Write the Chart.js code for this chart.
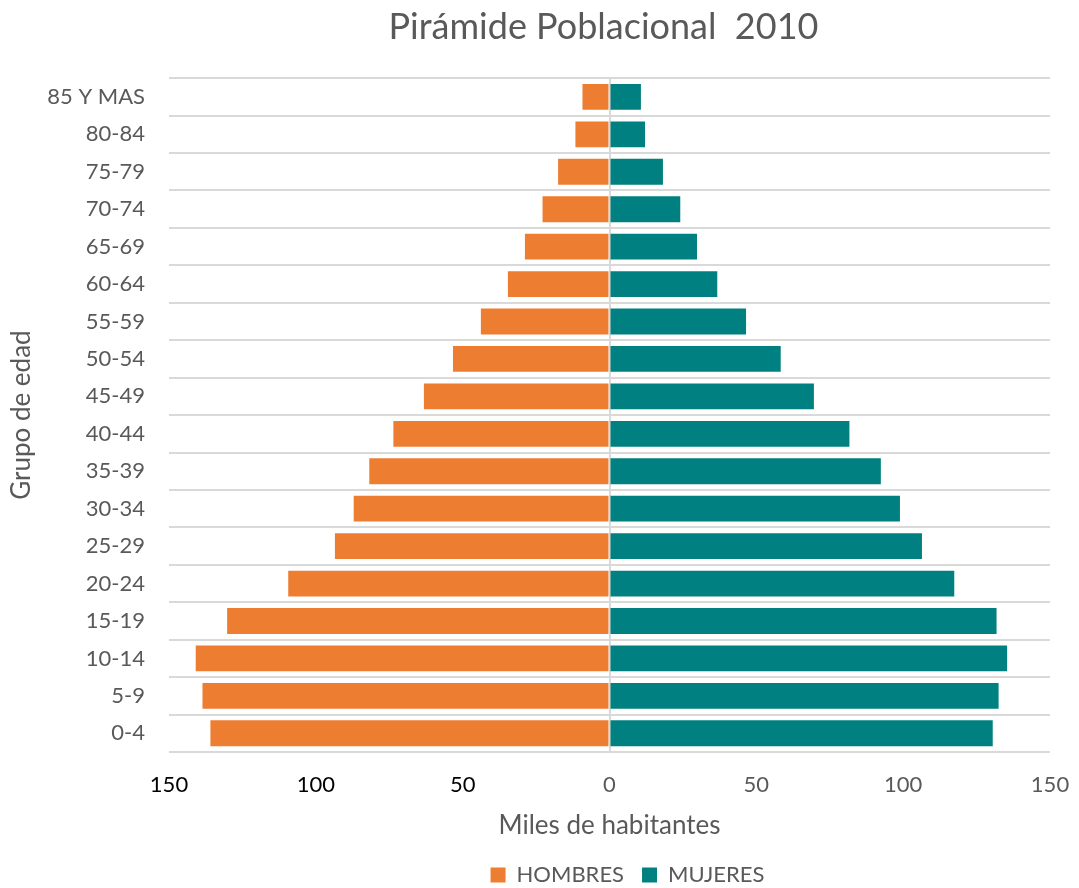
<!DOCTYPE html>
<html lang="es">
<head>
<meta charset="utf-8">
<title>Pirámide Poblacional 2010</title>
<script src="https://cdn.jsdelivr.net/npm/chart.js@4"></script>
<style>
    html, body { margin: 0; padding: 0; background: #fff; }
    #wrap { width: 1079px; height: 888px; }
</style>
</head>
<body>
<div id="wrap"><canvas id="piramide-chart" width="1079" height="888"></canvas></div>
<script>
// Grupos de edad, de arriba hacia abajo
const grupos = ['85 Y MAS', '80-84', '75-79', '70-74', '65-69', '60-64', '55-59', '50-54', '45-49',
    '40-44', '35-39', '30-34', '25-29', '20-24', '15-19', '10-14', '5-9', '0-4'];

// Miles de habitantes
const hombres = [9.2, 11.6, 17.5, 22.8, 28.8, 34.6, 43.8, 53.3, 63.2,
    73.6, 81.8, 87.1, 93.5, 109.4, 130.2, 140.9, 138.6, 135.9];
const mujeres = [10.7, 12.1, 18.2, 24.1, 29.8, 36.7, 46.5, 58.3, 69.6,
    81.7, 92.4, 98.9, 106.4, 117.4, 131.8, 135.4, 132.5, 130.5];

const ejeMin = -150;
const ejeMax = 150;
const ejePaso = 50;

const FUENTE = 'Lato, "Open Sans", sans-serif';
const GRIS = '#595959';

// ajusta un poco la posición horizontal de la leyenda y del título
const ajustarBloques = {
    id: 'ajustarBloques',
    afterLayout(chart) {
        chart.legend.left += 18;
        chart.legend.right += 18;
        chart.titleBlock.left -= 6;
        chart.titleBlock.right -= 6;
    }
};

function crearPiramide() {
    const ctx = document.getElementById('piramide-chart').getContext('2d');

    return new Chart(ctx, {
        type: 'bar',
        data: {
            labels: grupos,
            datasets: [{
                label: 'HOMBRES',
                data: hombres.map(v => -v),
                backgroundColor: '#ED7D31',
                borderWidth: 0
            }, {
                label: 'MUJERES',
                data: mujeres,
                backgroundColor: '#008080',
                borderWidth: 0
            }]
        },
        plugins: [ajustarBloques],
        options: {
            indexAxis: 'y',
            responsive: false,
            animation: false,
            categoryPercentage: 1,
            barPercentage: 0.69,
            layout: {
                padding: { left: 0, right: 29, top: 0, bottom: -8 }
            },
            plugins: {
                title: {
                    display: true,
                    fullSize: false,
                    text: 'Pirámide Poblacional  2010',
                    color: GRIS,
                    font: { family: FUENTE, size: 36, weight: 'normal' },
                    padding: { top: 6, bottom: 29 }
                },
                legend: {
                    position: 'bottom',
                    fullSize: false,
                    labels: {
                        color: GRIS,
                        boxWidth: 15,
                        boxHeight: 15,
                        padding: 18,
                        font: { family: FUENTE, size: 22 }
                    }
                },
                tooltip: {
                    callbacks: {
                        label: function(context) {
                            return context.dataset.label + ': ' + Math.abs(context.parsed.x);
                        }
                    }
                }
            },
            scales: {
                x: {
                    stacked: true,
                    min: ejeMin,
                    max: ejeMax,
                    z: 1,
                    border: { display: false },
                    grid: {
                        drawTicks: false,
                        lineWidth: 2,
                        color: function(context) {
                            return context.tick && context.tick.value === 0 ? '#d9d9d9' : 'rgba(0,0,0,0)';
                        }
                    },
                    ticks: {
                        stepSize: ejePaso,
                        padding: 20,
                        font: { family: FUENTE, size: 22 },
                        color: function(context) {
                            return context.tick.value < 0 ? '#000000' : GRIS;
                        },
                        callback: function(value) {
                            return Math.abs(value);
                        }
                    },
                    title: {
                        display: true,
                        text: 'Miles de habitantes',
                        color: GRIS,
                        font: { family: FUENTE, size: 26 },
                        padding: { top: 10, bottom: 5 }
                    },
                    afterFit: function(scale) {
                        scale.height = 94;
                        scale.paddingLeft = 0;
                        scale.paddingRight = 0;
                    }
                },
                y: {
                    stacked: true,
                    border: { display: false },
                    grid: {
                        drawTicks: false,
                        lineWidth: 2,
                        color: '#d9d9d9'
                    },
                    ticks: {
                        padding: 24,
                        color: GRIS,
                        font: { family: FUENTE, size: 22 }
                    },
                    title: {
                        display: true,
                        text: 'Grupo de edad',
                        color: GRIS,
                        font: { family: FUENTE, size: 26 },
                        padding: { top: 6, bottom: 0 }
                    },
                    afterFit: function(scale) {
                        scale.width = 169;
                    }
                }
            }
        }
    });
}

crearPiramide();
</script>
</body>
</html>
